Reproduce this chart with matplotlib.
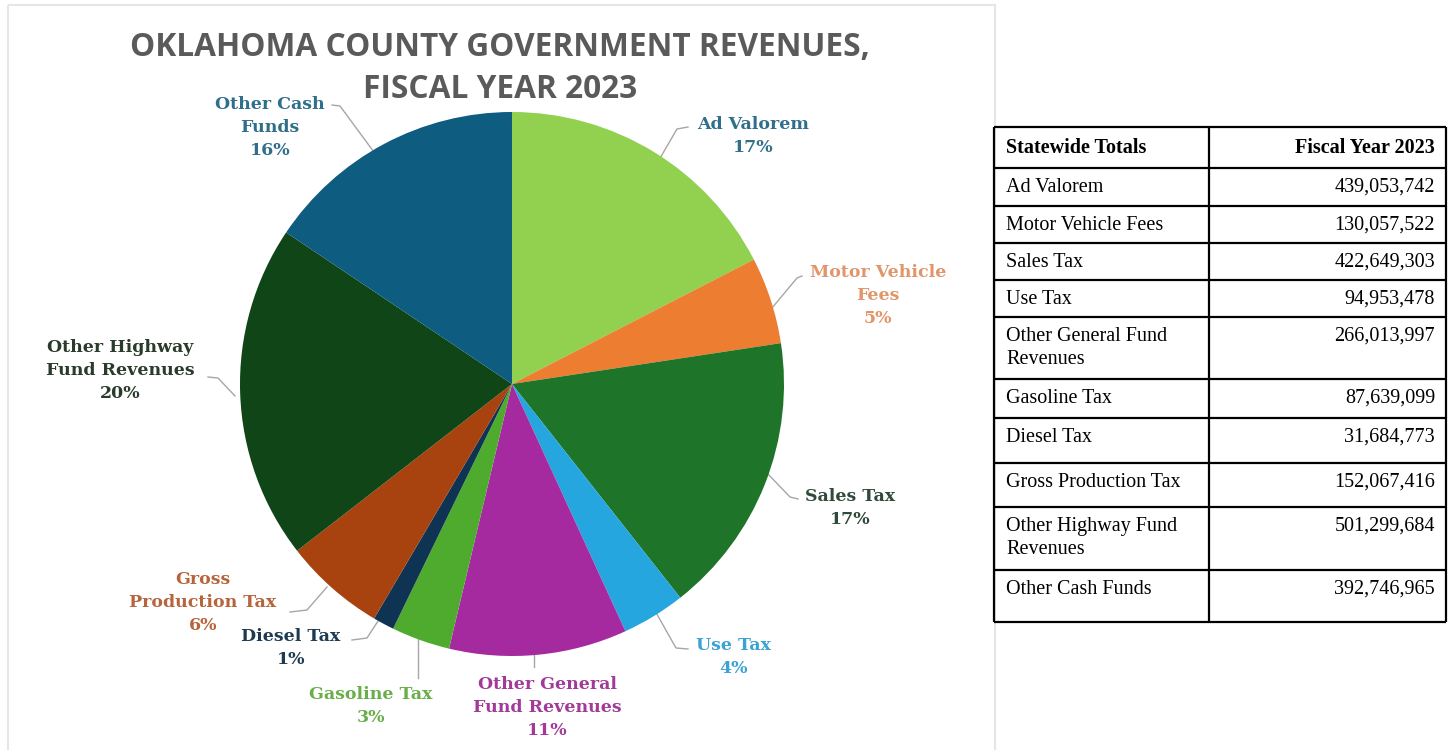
import matplotlib
matplotlib.use("Agg")
import matplotlib.pyplot as plt
from matplotlib.patches import Rectangle

# ---- data ----
categories = ["Ad Valorem", "Motor Vehicle Fees", "Sales Tax", "Use Tax",
              "Other General Fund Revenues", "Gasoline Tax", "Diesel Tax",
              "Gross Production Tax", "Other Highway Fund Revenues", "Other Cash Funds"]
revenues = [439053742, 130057522, 422649303, 94953478, 266013997,
            87639099, 31684773, 152067416, 501299684, 392746965]
pie_labels = ["Ad Valorem\n17%", "Motor Vehicle\nFees\n5%", "Sales Tax\n17%", "Use Tax\n4%",
              "Other General\nFund Revenues\n11%", "Gasoline Tax\n3%", "Diesel Tax\n1%",
              "Gross\nProduction Tax\n6%", "Other Highway\nFund Revenues\n20%",
              "Other Cash\nFunds\n16%"]
table_names = ["Ad Valorem", "Motor Vehicle Fees", "Sales Tax", "Use Tax",
               "Other General Fund\nRevenues", "Gasoline Tax", "Diesel Tax",
               "Gross Production Tax", "Other Highway Fund\nRevenues", "Other Cash Funds"]

wedge_colors = ["#92d050", "#ed7d31", "#1e7428", "#25a6df", "#a52aa0",
                "#4eab2e", "#0f3352", "#a8430f", "#0f4517", "#0e5c80"]
label_colors = ["#2f6f8a", "#e0956a", "#2f4a3a", "#3aa2d4", "#a23a9a",
                "#6aae4a", "#1e3a50", "#b5643c", "#2b3b2b", "#2f6f8a"]

W, H = 1449, 750
fig = plt.figure(figsize=(W / 100, H / 100), dpi=100)

# pixel overlay axes (y downward)
ov = fig.add_axes([0, 0, 1, 1])
ov.set_xlim(0, W)
ov.set_ylim(H, 0)
ov.axis("off")

# light frame of the embedded image
ov.add_patch(Rectangle((8, 5), 987, 760, fill=False, ec="#e6e6e6", lw=1.5))

# ---- pie ----
cx, cy, R = 512, 384, 272
pax = fig.add_axes([(cx - 300) / W, (H - cy - 300) / H, 600 / W, 600 / H])
pax.pie(revenues, colors=wedge_colors, startangle=90, counterclock=False,
        radius=R, wedgeprops=dict(linewidth=0))
pax.set_xlim(-300, 300)
pax.set_ylim(-300, 300)
pax.axis("off")

# title
ov.text(500, 47, "OKLAHOMA COUNTY GOVERNMENT REVENUES,", ha="center", va="center",
        fontsize=22.8, family="Open Sans", weight="bold", color="#5a5a5a")
ov.text(500, 89, "FISCAL YEAR 2023", ha="center", va="center",
        fontsize=22.8, family="Open Sans", weight="bold", color="#5a5a5a")

# label positions (center of first line) and leader lines, in image pixels
label_pos = [(753, 125), (878, 273), (850, 497), (733, 646), (547, 685),
             (371, 695), (291, 637), (203, 580), (120, 348), (270, 105)]
leaders = [
    [(652, 172), (677, 129), (688, 127)],
    [(772, 308), (797, 278), (802, 276)],
    [(767, 473), (790, 497), (798, 499)],
    [(650, 602), (676, 648), (688, 649)],
    [(534, 645), (534, 667)],
    [(418, 637), (418, 678)],
    [(380, 618), (367, 638), (352, 640)],
    [(327, 587), (307, 610), (290, 612)],
    [(235, 396), (218, 378), (208, 377)],
    [(382, 163), (340, 106), (332, 105)],
]
for text, (x, y), col, pts in zip(pie_labels, label_pos, label_colors, leaders):
    ov.text(x, y - 9, text, ha="center", va="top", fontsize=12.5, family="DejaVu Serif",
            weight="bold", color=col, linespacing=1.45)
    xs, ys = zip(*pts)
    ov.plot(xs, ys, color="#a6a6a6", lw=1)

# ---- table ----
tx0, tx1, tx2 = 994, 1209, 1446
row_edges = [127, 168, 206, 243, 280, 317, 379, 418, 463, 507, 570, 622]
ov.hlines(row_edges, tx0, tx2, color="black", lw=1.6)
ov.vlines([tx0, tx1, tx2], row_edges[0], row_edges[-1], color="black", lw=1.6)

tfont = dict(family="Liberation Serif", fontsize=14.5, color="black")
ov.text(1006, 148, "Statewide Totals", ha="left", va="center", weight="bold", **tfont)
ov.text(1435, 148, "Fiscal Year 2023", ha="right", va="center", weight="bold", **tfont)
for i, (name, val) in enumerate(zip(table_names, revenues)):
    top = row_edges[i + 1]
    ov.text(1006, top + 10, name, ha="left", va="top", linespacing=1.25, **tfont)
    ov.text(1435, top + 10, f"{val:,}", ha="right", va="top", **tfont)

fig.savefig("out.png", dpi=100, facecolor="white")
